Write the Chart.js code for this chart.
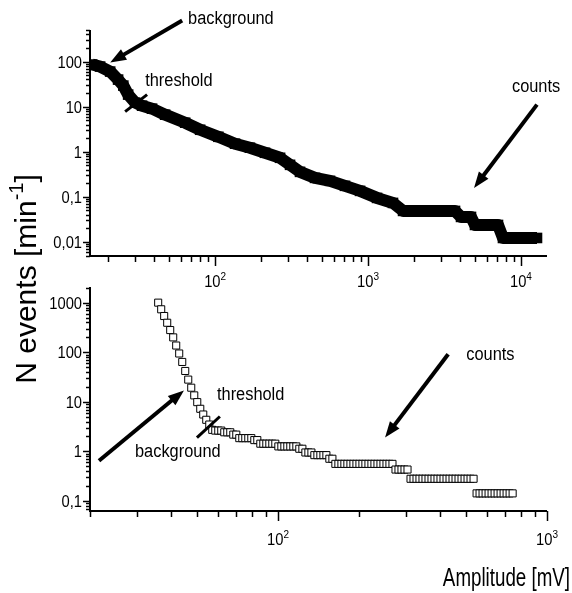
<!DOCTYPE html>
<html>
<head>
<meta charset="utf-8">
<script src="https://cdn.jsdelivr.net/npm/chart.js@4.4.1/dist/chart.umd.min.js"></script>
<style>
  html, body { margin: 0; padding: 0; background: #fff; }
  #wrap { position: relative; width: 572px; height: 593px; }
  canvas { position: absolute; left: 0; top: 0; }
</style>
</head>
<body>
<div id="wrap">
  <canvas id="topChart" width="572" height="593"></canvas>
  <canvas id="bottomChart" width="572" height="593"></canvas>
</div>
<script>
// ---- top panel: N events [min-1] vs amplitude (filled squares)
const topX = [15.7, 17.7, 20.6, 23.2, 25.1, 27.0, 30.0, 33.3, 38.7, 47.1, 63.7, 79.8, 105, 135, 169, 212,
  266, 309, 359, 450, 564, 707, 887, 1145, 1456, 1694, 2188, 2956, 3705, 4055, 4712, 5003, 6086, 7077,
  7625, 9846, 12730];
const topY = [85.8, 77.4, 59.9, 39.8, 29.3, 18.5, 12.3, 10.5, 9.03, 6.64, 4.41, 3.08, 2.15, 1.51, 1.23, 0.95,
  0.736, 0.514, 0.359, 0.264, 0.227, 0.176, 0.136, 0.095, 0.0736, 0.0489, 0.0489, 0.0489, 0.0489, 0.036, 0.036,
  0.0239, 0.0239, 0.0239, 0.0123, 0.0123, 0.0123];

// ---- bottom panel (open squares)
const botX = [35.85, 36.79, 37.74, 38.73, 39.74, 40.77, 41.83, 42.92, 44.05, 45.19,
  46.37, 47.58, 48.82, 50.09, 51.40, 52.73, 54.11, 55.52, 56.96, 58.45,
  59.97, 61.52, 63.13, 64.77, 66.46, 68.19, 69.97, 71.79, 73.66, 75.57,
  77.55, 79.57, 81.63, 83.76, 85.95, 88.18, 90.48, 92.84, 95.24, 97.72,
  100.3, 102.9, 105.6, 108.3, 111.1, 114.0, 117.0, 120.0, 123.2, 126.4,
  129.7, 133.1, 136.5, 140.1, 143.7, 147.5, 151.3, 155.2, 159.3, 163.4,
  167.7, 172.1, 176.5, 181.1, 185.9, 190.7, 195.7, 200.8, 206.0, 211.3,
  216.9, 222.5, 228.3, 234.3, 240.4, 246.6, 253.1, 259.6, 266.4, 273.4,
  280.5, 287.8, 295.3, 303.0, 310.9, 319.0, 327.3, 335.7, 344.5, 353.4,
  362.7, 372.1, 381.8, 391.7, 401.9, 412.4, 423.2, 434.2, 445.5, 457.1,
  469.0, 481.2, 493.8, 506.6, 519.8, 533.4, 547.3, 561.5, 576.1, 591.2,
  606.5, 622.3, 638.6, 655.2, 672.3, 689.8, 707.7, 726.2, 745.2];
const botY = [1005, 738, 540, 395, 281, 200, 137, 94.6, 63.9, 42.0,
  28.1, 19.3, 13.5, 9.86, 7.24, 5.55, 4.34, 3.48, 2.72, 2.63,
  2.63, 2.63, 2.43, 2.43, 2.43, 2.18, 2.18, 1.85, 1.85, 1.85,
  1.85, 1.85, 1.69, 1.69, 1.43, 1.43, 1.43, 1.43, 1.43, 1.43,
  1.26, 1.26, 1.26, 1.26, 1.26, 1.26, 1.26, 1.13, 1.13, 0.95,
  0.95, 0.95, 0.84, 0.84, 0.84, 0.84, 0.84, 0.71, 0.71, 0.56,
  0.56, 0.56, 0.56, 0.56, 0.56, 0.56, 0.56, 0.56, 0.56, 0.56,
  0.56, 0.56, 0.56, 0.56, 0.56, 0.56, 0.56, 0.56, 0.56, 0.43,
  0.43, 0.43, 0.43, 0.43, 0.28, 0.28, 0.28, 0.28, 0.28, 0.28,
  0.28, 0.28, 0.28, 0.28, 0.28, 0.28, 0.28, 0.28, 0.28, 0.28,
  0.28, 0.28, 0.28, 0.28, 0.28, 0.28, 0.142, 0.142, 0.142, 0.142,
  0.142, 0.142, 0.142, 0.142, 0.142, 0.142, 0.142, 0.142, 0.142];

// axis ranges
const topXRange = [15.2, 14800];
const topYRange = [0.0049, 500];
const botXRange = [20, 1000];
const botYRange = [0.0626, 2080];

// tick labels
const topYTickVals = [0.01, 0.1, 1, 10, 100];
const topYTickText = ['0,01', '0,1', '1', '10', '100'];
const topXTickVals = [100, 1000, 10000];
const topXTickExp = ['2', '3', '4'];
const botYTickVals = [0.1, 1, 10, 100, 1000];
const botYTickText = ['0,1', '1', '10', '100', '1000'];
const botXTickVals = [100, 1000];
const botXTickExp = ['2', '3'];

// annotations (data units)
const topNotes = [
  { text: 'background', x: 66.6, y: 664 },
  { text: 'threshold', x: 34.9, y: 28.3 },
  { text: 'counts', x: 8730, y: 21.5 }
];
const topArrows = [
  { from: [60.9, 815], to: [20.6, 95], head: true },
  { from: [25.8, 7.74], to: [35.9, 18.5], head: false },
  { from: [12730, 11.1], to: [4932, 0.158], head: true }
];
const botNotes = [
  { text: 'threshold', x: 59.3, y: 10.7 },
  { text: 'background', x: 29.4, y: 0.755 },
  { text: 'counts', x: 501, y: 69.2 }
];
const botArrows = [
  { from: [21.6, 0.648], to: [44.7, 17.0], head: true },
  { from: [49.96, 1.90], to: [60.8, 5.06], head: false },
  { from: [429, 91.5], to: [250, 1.90], head: true }
];

const FONT = '"Liberation Sans", Arial, Helvetica, sans-serif';

function logTicks(min, max) {
  const out = [];
  for (let e = Math.floor(Math.log10(min)); e <= Math.ceil(Math.log10(max)); e++) {
    for (let m = 1; m < 10; m++) {
      const v = m * Math.pow(10, e);
      if (v >= min * 0.999 && v <= max * 1.001) out.push(v);
    }
  }
  return out;
}
function isDecade(v) {
  const l = Math.log10(v);
  return Math.abs(l - Math.round(l)) < 1e-6;
}

// narrow text like the original plot
function squeeze(ctx, txt, x, y, size, sx, align) {
  ctx.save();
  ctx.font = size + 'px ' + FONT;
  const w = ctx.measureText(txt).width * sx;
  let x0 = x;
  if (align === 'right') x0 = x - w;
  if (align === 'center') x0 = x - w / 2;
  ctx.translate(x0, y);
  ctx.scale(sx, 1);
  ctx.textAlign = 'left';
  ctx.textBaseline = 'alphabetic';
  ctx.fillText(txt, 0, 0);
  ctx.restore();
  return w;
}

function arrow(ctx, x1, y1, x2, y2, head) {
  const a = Math.atan2(y2 - y1, x2 - x1);
  const c = Math.cos(a), s = Math.sin(a);
  const L = 16, W = 6;
  ctx.lineCap = 'butt';
  ctx.lineWidth = head ? 4 : 3;
  ctx.beginPath();
  ctx.moveTo(x1, y1);
  ctx.lineTo(head ? x2 - c * L * 0.7 : x2, head ? y2 - s * L * 0.7 : y2);
  ctx.stroke();
  if (head) {
    ctx.beginPath();
    ctx.moveTo(x2, y2);
    ctx.lineTo(x2 - c * L - s * W, y2 - s * L + c * W);
    ctx.lineTo(x2 - c * L + s * W, y2 - s * L - c * W);
    ctx.closePath();
    ctx.fill();
  }
}

function axesPlugin(spec) {
  return {
    id: 'axes_' + spec.name,
    afterDraw(chart) {
      const ctx = chart.ctx, xs = chart.scales.x, ys = chart.scales.y, area = chart.chartArea;
      ctx.save();
      ctx.strokeStyle = '#000';
      ctx.fillStyle = '#000';
      // axis lines
      ctx.lineWidth = 2;
      ctx.beginPath();
      ctx.moveTo(area.left, area.top);
      ctx.lineTo(area.left, area.bottom);
      ctx.lineTo(area.right, area.bottom);
      ctx.stroke();
      // ticks
      ctx.lineWidth = 1.5;
      ys.ticks.forEach(t => {
        const p = Math.round(ys.getPixelForValue(t.value)) + 0.5;
        const len = isDecade(t.value) ? 7 : 4;
        ctx.beginPath();
        ctx.moveTo(area.left, p);
        ctx.lineTo(area.left - len, p);
        ctx.stroke();
      });
      xs.ticks.forEach(t => {
        const p = Math.round(xs.getPixelForValue(t.value)) + 0.5;
        const len = isDecade(t.value) ? 10 : 6;
        ctx.beginPath();
        ctx.moveTo(p, area.bottom);
        ctx.lineTo(p, area.bottom + len);
        ctx.stroke();
      });
      // tick labels
      spec.yVals.forEach((v, i) => {
        const p = ys.getPixelForValue(v);
        squeeze(ctx, spec.yText[i], area.left - 8, p + 6, 16, 0.92, 'right');
      });
      spec.xVals.forEach((v, i) => {
        const p = xs.getPixelForValue(v);
        ctx.font = '16px ' + FONT;
        const w1 = ctx.measureText('10').width * 0.92;
        ctx.font = '10px ' + FONT;
        const w2 = ctx.measureText(spec.xExp[i]).width;
        const x0 = p - (w1 + w2) / 2;
        squeeze(ctx, '10', x0, spec.xLabelY, 16, 0.92, 'left');
        squeeze(ctx, spec.xExp[i], x0 + w1, spec.xLabelY - 7, 10, 1, 'left');
      });
      // notes and arrows
      spec.notes.forEach(n => {
        squeeze(ctx, n.text, xs.getPixelForValue(n.x), ys.getPixelForValue(n.y), 18, 0.91, 'left');
      });
      spec.arrows.forEach(a => {
        arrow(ctx, xs.getPixelForValue(a.from[0]), ys.getPixelForValue(a.from[1]),
          xs.getPixelForValue(a.to[0]), ys.getPixelForValue(a.to[1]), a.head);
      });
      // shared axis titles
      if (spec.titles) {
        squeeze(ctx, 'Amplitude [mV]', 570, 586, 25, 0.75, 'right');
        ctx.save();
        ctx.translate(36, 279);
        ctx.rotate(-Math.PI / 2);
        ctx.font = '30px ' + FONT;
        const a = 'N events [min', b = '-1', c = ']';
        const wa = ctx.measureText(a).width, wc = ctx.measureText(c).width;
        ctx.font = '20px ' + FONT;
        const wb = ctx.measureText(b).width;
        let x = -(wa + wb + wc) / 2;
        ctx.textBaseline = 'alphabetic';
        ctx.font = '30px ' + FONT;
        ctx.fillText(a, x, 0); x += wa;
        ctx.font = '20px ' + FONT;
        ctx.fillText(b, x, -13); x += wb;
        ctx.font = '30px ' + FONT;
        ctx.fillText(c, x, 0);
        ctx.restore();
      }
      ctx.restore();
    }
  };
}

function panel(id, xr, yr, pad, spec, ds) {
  return new Chart(document.getElementById(id), {
    type: 'line',
    data: { datasets: [ds] },
    options: {
      responsive: false,
      animation: false,
      events: [],
      layout: { padding: pad },
      plugins: { legend: { display: false }, tooltip: { enabled: false } },
      scales: {
        x: {
          type: 'logarithmic', min: xr[0], max: xr[1],
          grid: { display: false }, border: { display: false }, ticks: { display: false },
          afterBuildTicks: s => { s.ticks = logTicks(xr[0], xr[1]).map(v => ({ value: v })); },
          afterFit: s => { s.height = 0; }
        },
        y: {
          type: 'logarithmic', min: yr[0], max: yr[1],
          grid: { display: false }, border: { display: false }, ticks: { display: false },
          afterBuildTicks: s => { s.ticks = logTicks(yr[0], yr[1]).map(v => ({ value: v })); },
          afterFit: s => { s.width = 0; }
        }
      }
    },
    plugins: [axesPlugin(spec)]
  });
}

panel('topChart', topXRange, topYRange, { left: 90, top: 30, right: 25, bottom: 337 }, {
  name: 'top', yVals: topYTickVals, yText: topYTickText, xVals: topXTickVals, xExp: topXTickExp,
  xLabelY: 287, notes: topNotes, arrows: topArrows, titles: false
}, {
  data: topX.map((x, i) => ({ x: x, y: topY[i] })),
  borderColor: '#000', backgroundColor: '#000', borderWidth: 12,
  borderJoinStyle: 'round', pointStyle: 'rect', pointRadius: 7.5, pointBorderWidth: 0,
  pointBackgroundColor: '#000', clip: 0
});

panel('bottomChart', botXRange, botYRange, { left: 90, top: 287, right: 25, bottom: 82 }, {
  name: 'bottom', yVals: botYTickVals, yText: botYTickText, xVals: botXTickVals, xExp: botXTickExp,
  xLabelY: 545, notes: botNotes, arrows: botArrows, titles: true
}, {
  data: botX.map((x, i) => ({ x: x, y: botY[i] })),
  showLine: false, pointStyle: 'rect', pointRadius: 5,
  pointBackgroundColor: '#fff', pointBorderColor: '#000', pointBorderWidth: 1, clip: 0
});
</script>
</body>
</html>
